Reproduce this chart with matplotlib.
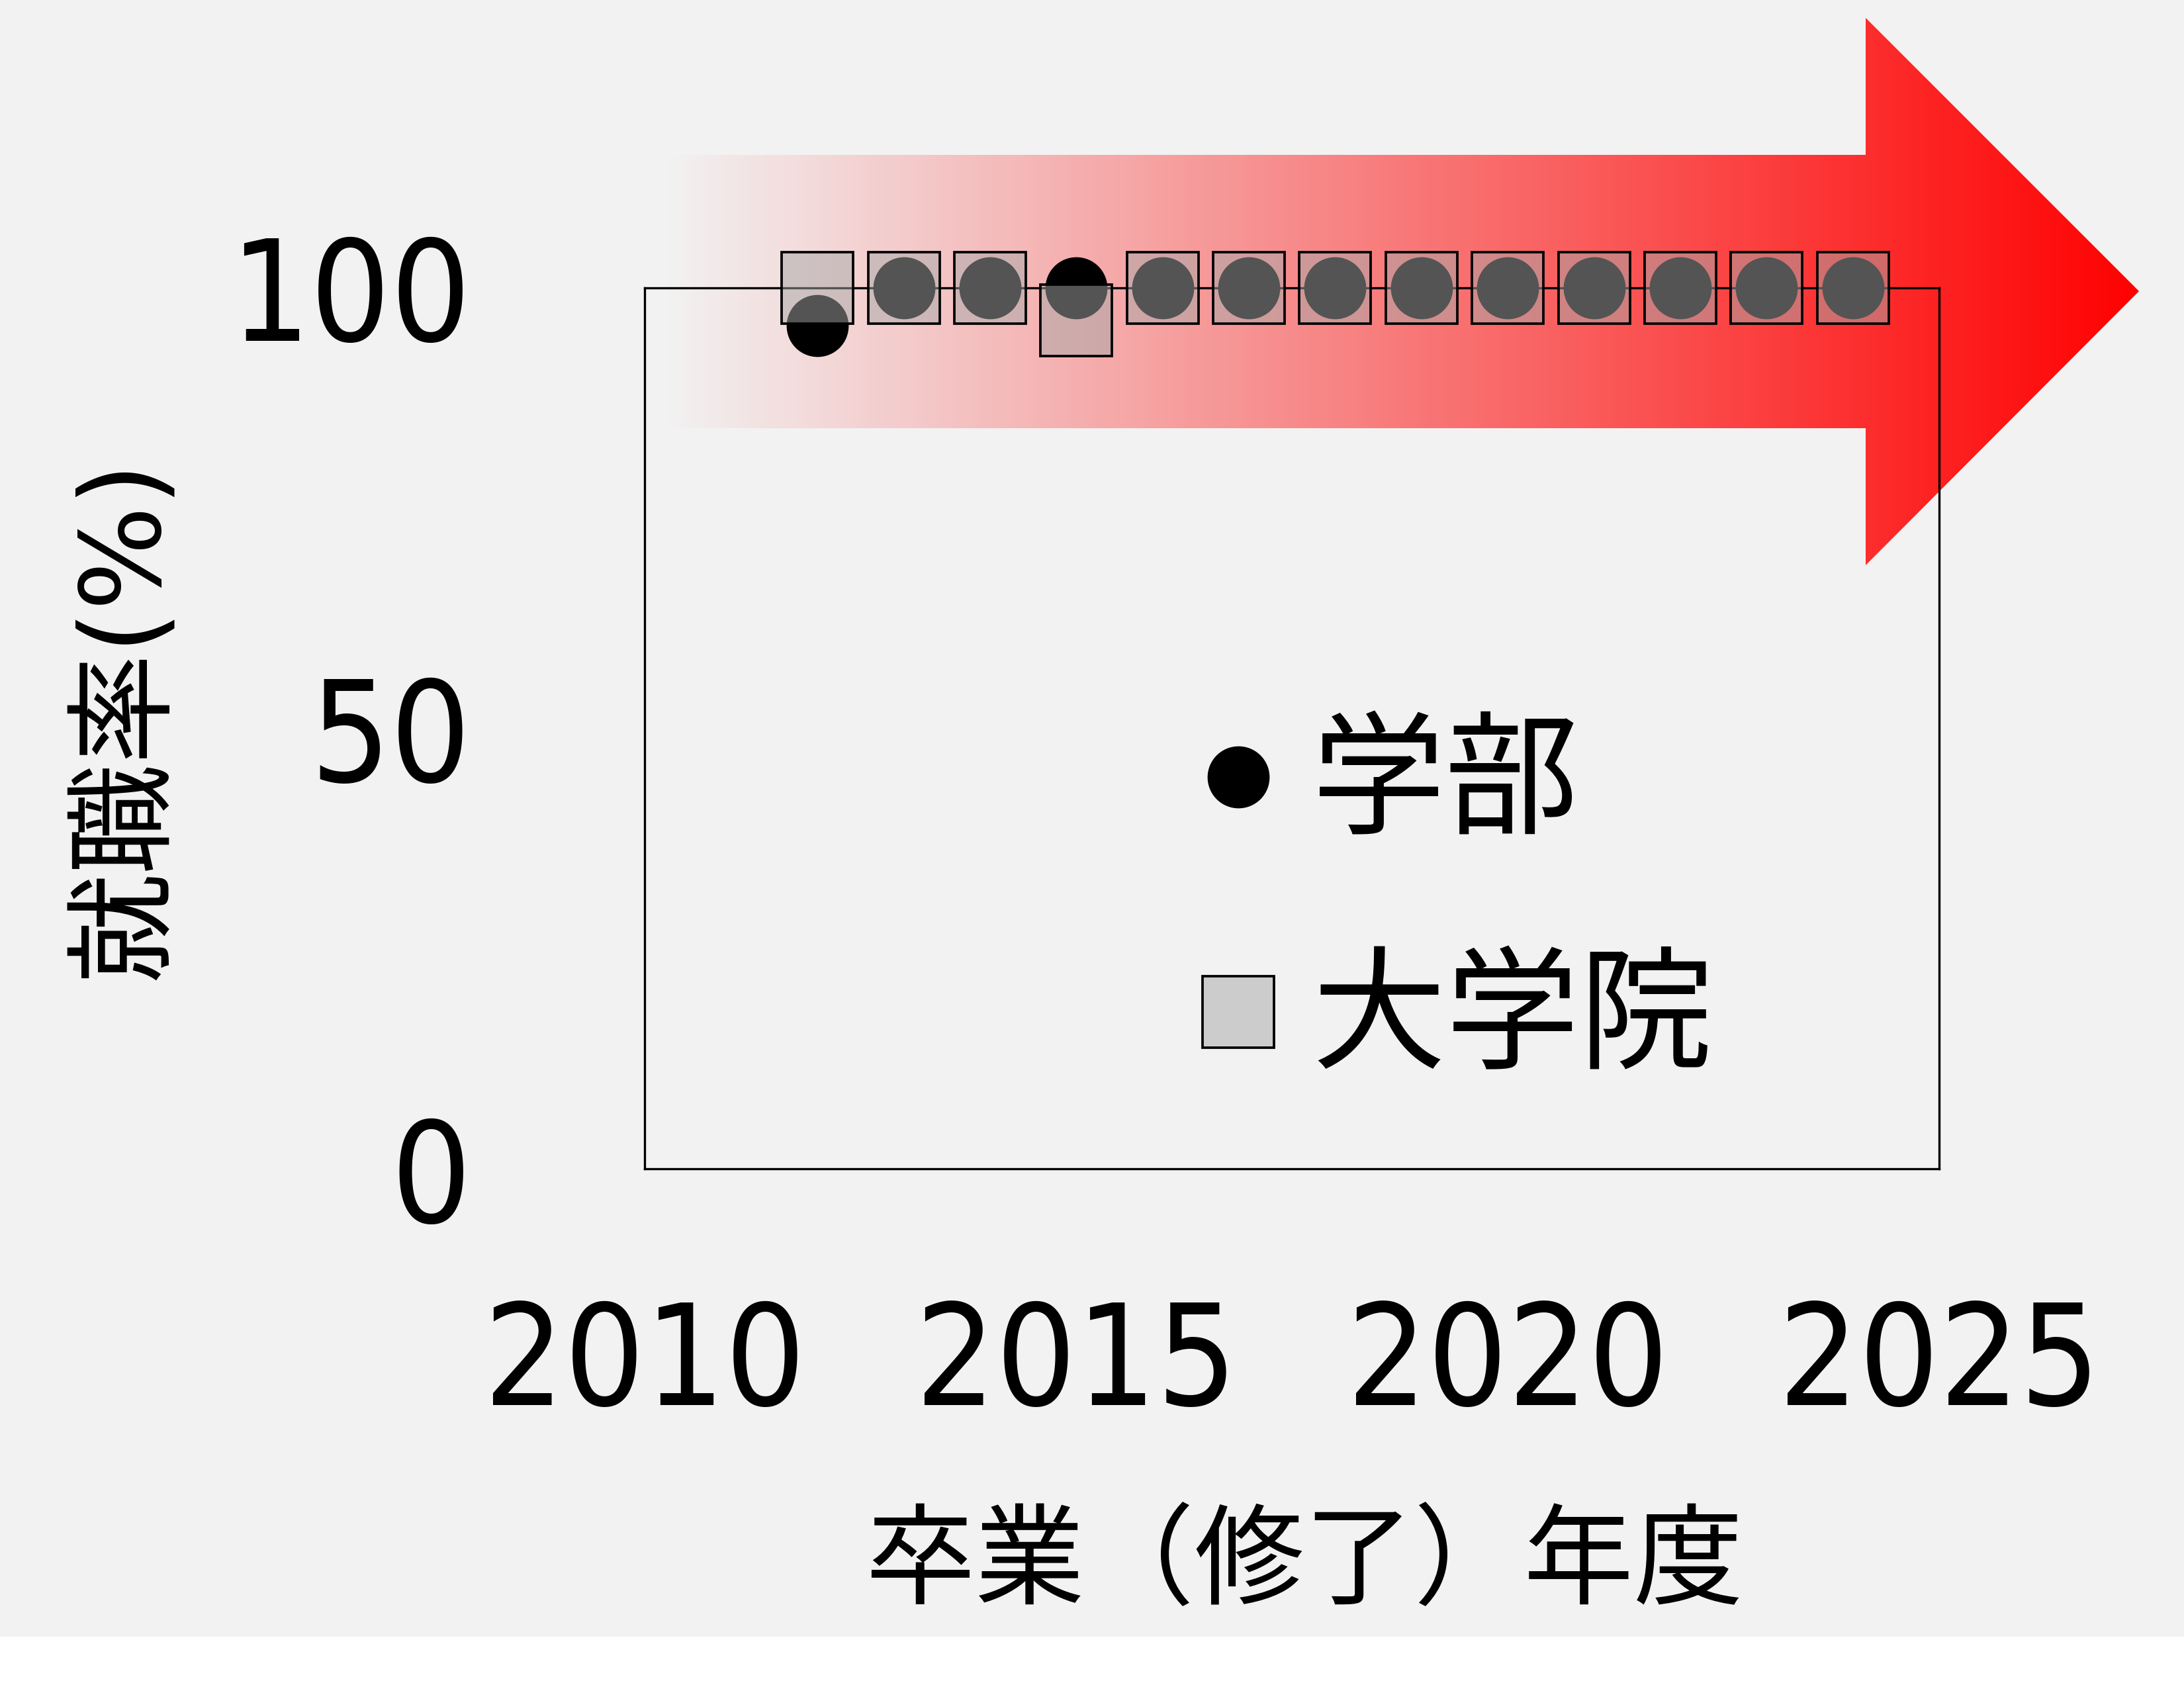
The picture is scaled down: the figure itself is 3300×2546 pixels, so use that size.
import numpy as np
import matplotlib.pyplot as plt
from matplotlib.patches import Polygon, Rectangle
from matplotlib.lines import Line2D
from matplotlib.font_manager import FontProperties

# employment rate (%) by graduation year
years = [2012, 2013, 2014, 2015, 2016, 2017, 2018, 2019, 2020, 2021, 2022, 2023, 2024]
gakubu = [95.7, 100, 100, 100, 100, 100, 100, 100, 100, 100, 100, 100, 100]
daigakuin = [100, 100, 100, 96.3, 100, 100, 100, 100, 100, 100, 100, 100, 100]
xticks = [2010, 2015, 2020, 2025]
yticks = [0, 50, 100]
series_labels = ['学部', '大学院']
xlabel = '卒業（修了）年度'
ylabel = '就職率(%)'

JP = 'Noto Sans CJK JP'
W, H = 3300, 2546

fig = plt.figure(figsize=(W / 300, H / 300), dpi=300, facecolor='white')

# background panel + gradient arrow, in pixel coords
bg = fig.add_axes([0, 0, 1, 1], zorder=0)
bg.axis('off')
bg.add_patch(Rectangle((0, 0), W, 2473, facecolor='#f2f2f2', edgecolor='none',
                       zorder=0))
arrow = Polygon([(1000, 234), (2819, 234), (2819, 27), (3232, 440),
                 (2819, 854), (2819, 647), (1000, 647)],
                closed=True, facecolor='none', edgecolor='none')
bg.add_patch(arrow)
ramp = np.zeros((1, 512, 4))
ramp[..., 0] = 1.0
ramp[..., 3] = np.linspace(0, 1, 512)
im = bg.imshow(ramp, extent=(1000, 3232, 854, 27), aspect='auto',
               interpolation='bilinear', zorder=2)
im.set_clip_path(arrow)
bg.set_xlim(0, W)
bg.set_ylim(H, 0)

ax = fig.add_axes([974.4 / W, 1 - 1766 / H, (2930 - 974.4) / W, (1766 - 435) / H],
                  zorder=1)
ax.patch.set_visible(False)

ax.plot(years, gakubu, 'o', color='black', ms=22.5, mew=0, zorder=3,
        clip_on=False)
ax.plot(years, daigakuin, 's', mfc=(0.66, 0.66, 0.66, 0.5), mec='black',
        mew=0.9, ms=25.7, zorder=4, clip_on=False)

ax.set_xlim(2010, 2025)
ax.set_ylim(0, 100)
ax.set_xticks(xticks)
ax.set_yticks(yticks)
ax.tick_params(axis='both', length=0, labelsize=51)
ax.tick_params(axis='x', pad=47)
ax.tick_params(axis='y', pad=63)
for lab in ax.get_xticklabels() + ax.get_yticklabels():
    lab.set_fontstretch('condensed')
for sp in ax.spines.values():
    sp.set_linewidth(0.8)

ax.set_xlabel(xlabel, fontsize=39.8, family=JP)
ax.xaxis.set_label_coords(0.5096, -0.386)
ax.set_ylabel(ylabel, fontsize=40, family=['DejaVu Sans', JP])
ax.yaxis.set_label_coords(-0.3587, 0.51)

handles = [Line2D([], [], marker='o', color='black', ms=22.5, mew=0, ls='none'),
           Line2D([], [], marker='s', mfc='#cccccc', mec='black', mew=0.9,
                  ms=25.7, ls='none')]
ax.legend(handles, series_labels, prop=FontProperties(family=JP, size=48.5),
          frameon=False, loc='center left', bbox_to_anchor=(0.4273, 0.3016),
          borderpad=0, borderaxespad=0, handlelength=0.6, handletextpad=0.25,
          labelspacing=0.73)

plt.savefig('out.png', dpi=300)
